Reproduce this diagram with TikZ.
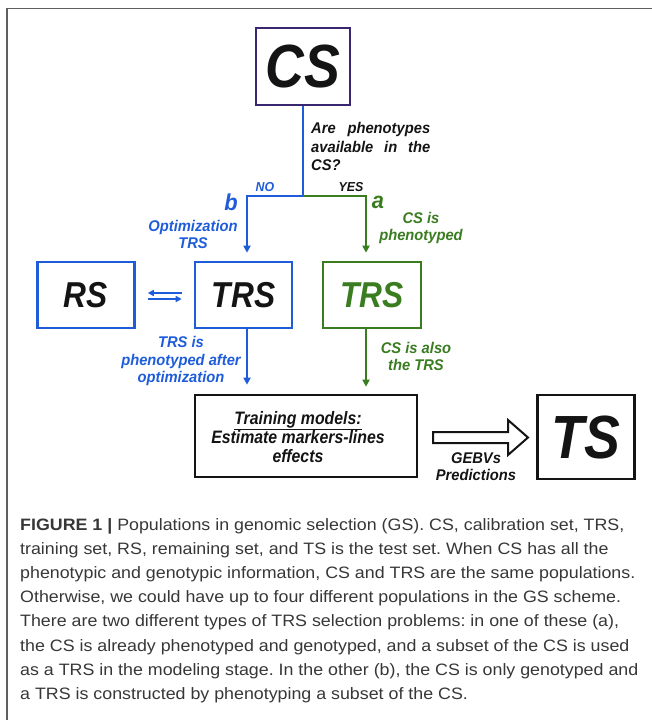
\documentclass[tikz,border=0pt]{standalone}
\usepackage{fontspec}
\setmainfont{Liberation Sans}
\newfontfamily\cf[FakeStretch=0.88]{Liberation Sans}
\newfontfamily\cfs[FakeStretch=0.95]{Liberation Sans}
\newfontfamily\capfont[FakeStretch=1.08]{Liberation Sans}
\usetikzlibrary{arrows.meta,calc}
\definecolor{cblue}{RGB}{30,92,218}
\definecolor{cgreen}{RGB}{58,124,32}
\definecolor{cpurple}{RGB}{58,38,112}
\definecolor{cblack}{RGB}{20,20,20}
\definecolor{framec}{RGB}{95,95,95}
\definecolor{captxt}{RGB}{55,55,55}
\begin{document}
\frenchspacing
\begin{tikzpicture}[x=1pt,y=-1pt,
 box/.style={draw, line width=2.6pt, inner sep=0pt, text=cblack,
   font=\cf\bfseries\itshape\fontsize{36}{36}\selectfont},
 bigbox/.style={box, font=\cf\bfseries\itshape\fontsize{61}{61}\selectfont},
 lbl/.style={anchor=base, inner sep=0pt, text=cblack,
   font=\cfs\bfseries\itshape\fontsize{15.5}{15.5}\selectfont},
 biglbl/.style={lbl, font=\cfs\bfseries\itshape\fontsize{23}{23}\selectfont},
 trainlbl/.style={lbl, font=\cf\bfseries\itshape\fontsize{18}{18}\selectfont},
 conn/.style={line width=2.2pt},
 tip/.style={-{Triangle[width=7pt,length=7pt]}},
 swaparrow/.style={cblue, line width=1.4pt, -{Triangle[width=6pt,length=6pt]}},
 capl/.style={anchor=base west, inner sep=0pt, text=captxt,
   font=\capfont\fontsize{16.5}{16.5}\selectfont}]
\useasboundingbox (0,0) rectangle (652,720);
\draw[framec, line width=1.3pt] (7,720) -- (7,8.5) -- (652,8.5);

% boxes
\node[bigbox, draw=cpurple, minimum width=94pt, minimum height=77pt] (cs) at (303,66.5) {CS};
\node[box, draw=cblue, minimum width=97pt, minimum height=66pt] (rs) at (86,295) {RS};
\node[box, draw=cblue, minimum width=97pt, minimum height=66pt] (trsb) at (243.5,295) {TRS};
\node[box, draw=cgreen, text=cgreen, minimum width=98pt, minimum height=66pt] (trsg) at (372,295) {TRS};
\node[box, draw=cblack, minimum width=222pt, minimum height=82pt] (train) at (306,436) {};
\node[bigbox, draw=cblack, minimum width=97pt, minimum height=84pt] (ts) at (586,437) {TS};

% connectors
\coordinate (j) at (303,196);
\coordinate (bl) at (247,196);
\coordinate (gr) at (366,196);
\draw[conn, cblue] (cs.south) -- (j);
\draw[conn, cblue, tip, shorten >=8pt] (j) -- (bl) -- (bl |- trsb.north);
\draw[conn, cgreen, tip, shorten >=8pt] (j) -- (gr) -- (gr |- trsg.north);
\draw[conn, cblue, tip, shorten >=9pt] (bl |- trsb.south) -- (bl |- train.north);
\draw[conn, cgreen, tip, shorten >=7pt] (gr |- trsg.south) -- (gr |- train.north);
\draw[swaparrow] ($(trsb.west)+(-12,-2)$) -- ($(rs.east)+(12,-2)$);
\draw[swaparrow] ($(rs.east)+(12,4)$) -- ($(trsb.west)+(-12,4)$);

% hollow arrow
\draw[cblack, line width=2pt, line join=miter, fill=white]
  (433,432) -- (508,432) -- (508,420) -- (528,437.5) -- (508,455) -- (508,443) -- (433,443) -- cycle;

% labels
\node[lbl, anchor=base west] (q1) at (311,133) {\makebox[119pt]{Are\hfill phenotypes}};
\node[lbl, anchor=base west] (q2) at (311,152) {\makebox[119pt]{available\hfill in\hfill the}};
\node[lbl, anchor=base west] (q3) at (311,170) {CS?};
\node[lbl, text=cblue, font=\cfs\bfseries\itshape\fontsize{13}{13}\selectfont] (no) at (265,191) {NO};
\node[lbl, font=\cfs\bfseries\itshape\fontsize{13}{13}\selectfont] (yes) at (351,191) {YES};
\node[biglbl, text=cblue] (b) at (231,210) {b};
\node[biglbl, text=cgreen] (a) at (378,208) {a};
\node[lbl, text=cblue] (o1) at (193,231) {Optimization};
\node[lbl, text=cblue] (o2) at (193,248) {TRS};
\node[lbl, text=cgreen] (p1) at (421,223) {CS is};
\node[lbl, text=cgreen] (p2) at (421,240) {phenotyped};
\node[lbl, text=cblue] (t1) at (181,347) {TRS is};
\node[lbl, text=cblue] (t2) at (181,365) {phenotyped after};
\node[lbl, text=cblue] (t3) at (181,382) {optimization};
\node[lbl, text=cgreen] (c1) at (416,353) {CS is also};
\node[lbl, text=cgreen] (c2) at (416,370) {the TRS};
\node[trainlbl] (m1) at (298,424) {\underline{Training models:}};
\node[trainlbl] (m2) at (298,443) {Estimate markers-lines};
\node[trainlbl] (m3) at (298,462) {effects};
\node[lbl] (g1) at (476,463) {GEBVs};
\node[lbl] (g2) at (476,480) {Predictions};

% caption
\node[capl] (cap1) at (20,530) {\textbf{FIGURE 1 |} Populations in genomic selection (GS). CS, calibration set, TRS,};
\node[capl] (cap2) at (20,554.2) {training set, RS, remaining set, and TS is the test set. When CS has all the};
\node[capl] (cap3) at (20,578.4) {phenotypic and genotypic information, CS and TRS are the same populations.};
\node[capl] (cap4) at (20,602.6) {Otherwise, we could have up to four different populations in the GS scheme.};
\node[capl] (cap5) at (20,626.8) {There are two different types of TRS selection problems: in one of these (a),};
\node[capl] (cap6) at (20,651) {the CS is already phenotyped and genotyped, and a subset of the CS is used};
\node[capl] (cap7) at (20,675.2) {as a TRS in the modeling stage. In the other (b), the CS is only genotyped and};
\node[capl] (cap8) at (20,699.4) {a TRS is constructed by phenotyping a subset of the CS.};
\end{tikzpicture}
\end{document}
